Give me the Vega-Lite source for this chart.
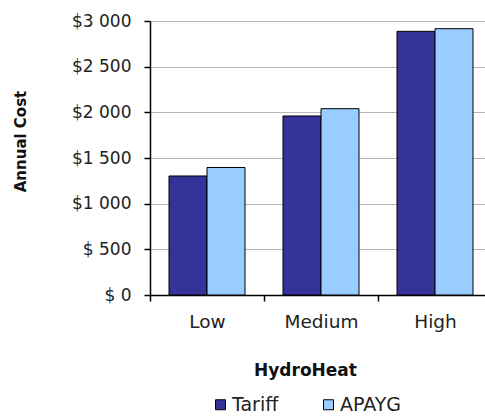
{
  "$schema": "https://vega.github.io/schema/vega-lite/v6.json",
  "width": 335,
  "height": 274,
  "autosize": {"type": "none"},
  "padding": {"left": 150, "top": 21, "right": 0, "bottom": 122},
  "background": "white",
  "config": {
    "font": "DejaVu Sans",
    "view": {"stroke": null}
  },
  "data": {
    "values": [
      {"load": "Low", "plan": "Tariff", "cost": 1303},
      {"load": "Low", "plan": "APAYG", "cost": 1396},
      {"load": "Medium", "plan": "Tariff", "cost": 1960},
      {"load": "Medium", "plan": "APAYG", "cost": 2040},
      {"load": "High", "plan": "Tariff", "cost": 2887},
      {"load": "High", "plan": "APAYG", "cost": 2916}
    ]
  },
  "mark": {"type": "bar", "stroke": "black", "strokeWidth": 1},
  "encoding": {
    "x": {
      "field": "load",
      "type": "nominal",
      "sort": ["Low", "Medium", "High"],
      "scale": {"range": [0, 342], "paddingInner": 0, "paddingOuter": 0},
      "axis": {
        "title": "HydroHeat",
        "titleFont": "DejaVu Sans",
        "titleFontSize": 17,
        "titleFontWeight": "bold",
        "titleColor": "#111",
        "titleX": 155,
        "titleY": 75,
        "titleBaseline": "middle",
        "labelAngle": 0,
        "labelFontSize": 18.5,
        "labelColor": "#222",
        "labelPadding": 11,
        "domainColor": "black",
        "domainWidth": 1.5,
        "tickColor": "black",
        "tickBand": "extent",
        "tickSize": 6,
        "tickWidth": 1.5
      }
    },
    "xOffset": {
      "field": "plan",
      "type": "nominal",
      "sort": ["Tariff", "APAYG"],
      "scale": {"paddingOuter": 0.5, "paddingInner": 0}
    },
    "y": {
      "field": "cost",
      "type": "quantitative",
      "scale": {"domain": [0, 3000], "nice": false},
      "axis": {
        "title": "Annual Cost",
        "titleFontSize": 15,
        "titleFontWeight": "bold",
        "titleColor": "#111",
        "titleX": -130,
        "titleY": 120,
        "titleAlign": "center",
        "titleBaseline": "middle",
        "titleAngle": -90,
        "values": [0, 500, 1000, 1500, 2000, 2500, 3000],
        "labelExpr": "datum.value < 1000 ? '$ ' + datum.value : '$' + replace(format(datum.value, ','), ',', ' ')",
        "labelFontSize": 17,
        "labelColor": "#222",
        "labelPadding": 13,
        "grid": true,
        "gridColor": "#b8b8b8",
        "gridWidth": 1,
        "domainColor": "black",
        "domainWidth": 1.5,
        "tickColor": "black",
        "tickSize": 6,
        "tickWidth": 1.5
      }
    },
    "color": {
      "field": "plan",
      "type": "nominal",
      "sort": ["Tariff", "APAYG"],
      "scale": {"domain": ["Tariff", "APAYG"], "range": ["#333399", "#99ccff"]},
      "legend": {
        "title": null,
        "orient": "none",
        "direction": "horizontal",
        "legendX": 61,
        "legendY": 374,
        "symbolType": "square",
        "symbolSize": 100,
        "symbolStrokeColor": "black",
        "symbolStrokeWidth": 1,
        "symbolOpacity": 1,
        "labelFontSize": 19,
        "labelColor": "#222",
        "labelOffset": 2,
        "columnPadding": 40
      }
    }
  }
}
